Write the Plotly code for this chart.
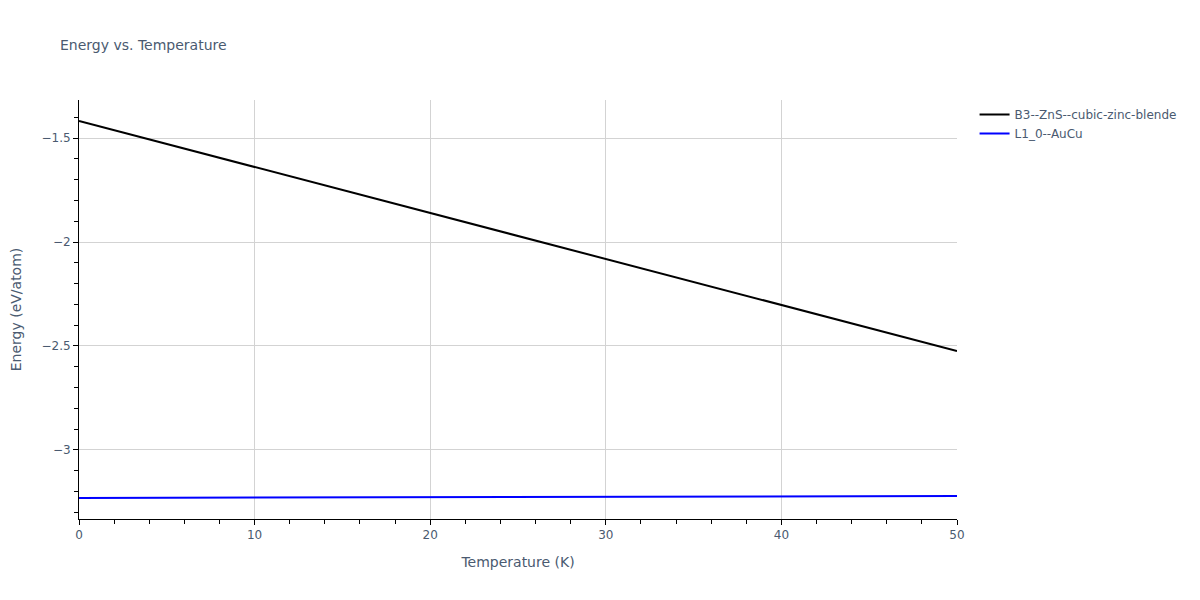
import plotly.graph_objects as go

temperature = [0, 10, 20, 30, 40, 50]
energy_b3 = [-1.418, -1.639, -1.860, -2.082, -2.303, -2.524]
energy_l10 = [-3.231, -3.229, -3.227, -3.225, -3.223, -3.221]
names = ["B3--ZnS--cubic-zinc-blende", "L1_0--AuCu"]

text_color = "#4a5a70"

fig = go.Figure()
fig.add_trace(go.Scatter(x=temperature, y=energy_b3, mode="lines", name=names[0],
                         line=dict(color="black", width=2)))
fig.add_trace(go.Scatter(x=temperature, y=energy_l10, mode="lines", name=names[1],
                         line=dict(color="blue", width=2)))

axis_common = dict(showline=True, linecolor="black", linewidth=1, ticks="outside",
                   tickcolor="black", ticklen=5, gridcolor="lightgray", zeroline=False,
                   automargin=False, tickfont=dict(color=text_color))
fig.update_layout(
    width=1200, height=600,
    template="plotly_white",
    title=dict(text="Energy vs. Temperature", x=0.0433, y=0.9467, font=dict(size=14, color=text_color)),
    margin=dict(l=71, r=251, t=92, b=89),
    plot_bgcolor="white", paper_bgcolor="white",
    font=dict(family="Verdana, DejaVu Sans, sans-serif", size=12, color=text_color),
    legend=dict(x=1.02, y=1, font=dict(size=12)),
    xaxis=dict(title=dict(text="Temperature (K)", font=dict(size=14)), range=[0, 50], dtick=10,
               minor=dict(ticks="outside", dtick=2, ticklen=4, tickcolor="black", showgrid=False),
               **axis_common),
    yaxis=dict(title=dict(text="Energy (eV/atom)", font=dict(size=14), standoff=16),
               range=[-3.332, -1.317], dtick=0.5,
               minor=dict(ticks="outside", dtick=0.1, ticklen=4, tickcolor="black", showgrid=False),
               **axis_common),
)
fig.write_html("out.html")
